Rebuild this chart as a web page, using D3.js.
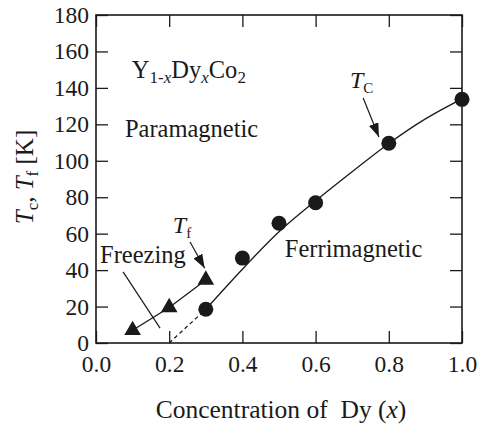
<!DOCTYPE html>
<html>
<head>
<meta charset="utf-8">
<script src="https://cdn.jsdelivr.net/npm/d3@7"></script>
<style>
  body { margin: 0; background: #fff; }
  svg text { fill: #1a1a1a; }
</style>
</head>
<body>
<script>
// Tc (circles) and Tf (triangles)
const tcX = [0.3, 0.4, 0.5, 0.6, 0.8, 1.0];
const tcY = [18.5, 46.6, 65.7, 77, 109.6, 133.7];
const tfX = [0.1, 0.2, 0.3];
const tfY = [7, 19.5, 34.6];

// smooth guide through the Tc points, and its dashed extrapolation
const fitX = [0.3, 0.4, 0.5, 0.6, 0.7, 0.8, 0.9, 1.0];
const fitY = [18.5, 40.5, 61, 78, 94, 109.5, 123, 134];
const dashX = [0.2, 0.3];
const dashY = [0, 18.5];

const xTicks = [0, 0.2, 0.4, 0.6, 0.8, 1.0];
const yTicks = [0, 20, 40, 60, 80, 100, 120, 140, 160, 180];

const serif = "'Liberation Serif'";

const margin = { top: 15, right: 17, bottom: 83, left: 96 },
      W = 479, H = 426,
      width = W - margin.left - margin.right,
      height = H - margin.top - margin.bottom;

var x = d3.scaleLinear().domain([0, 1]).range([0, width]);
var y = d3.scaleLinear().domain([0, 180]).range([height, 0]);

var svg = d3.select("body").append("svg")
    .attr("width", W)
    .attr("height", H);

svg.append("defs").append("marker")
    .attr("id", "head")
    .attr("markerUnits", "userSpaceOnUse")
    .attr("viewBox", "0 0 14 10")
    .attr("refX", 14).attr("refY", 5)
    .attr("markerWidth", 14).attr("markerHeight", 10)
    .attr("orient", "auto")
  .append("path")
    .attr("d", "M0,0 L14,5 L0,10 Z")
    .attr("fill", "#1a1a1a");

var g = svg.append("g")
    .attr("transform", "translate(" + margin.left + "," + margin.top + ")");

function styleAxis(sel) {
  sel.selectAll("line").attr("stroke", "#1a1a1a").attr("stroke-width", 1.3);
  sel.select(".domain").remove();
  sel.selectAll("text").style("font-family", serif).style("font-size", "23.5px").attr("fill", "#1a1a1a");
}

g.append("g")
    .attr("transform", "translate(0," + height + ")")
    .call(d3.axisBottom(x).tickValues(xTicks).tickFormat(d3.format(".1f"))
      .tickSizeInner(-12).tickSizeOuter(0).tickPadding(12))
    .call(styleAxis);

g.append("g")
    .call(d3.axisLeft(y).tickValues(yTicks)
      .tickSizeInner(-12).tickSizeOuter(0).tickPadding(7))
    .call(styleAxis);

g.append("g")
    .call(d3.axisTop(x).tickValues(xTicks).tickFormat("")
      .tickSizeInner(-12).tickSizeOuter(0))
    .call(styleAxis);

g.append("g")
    .attr("transform", "translate(" + width + ",0)")
    .call(d3.axisRight(y).tickValues(yTicks).tickFormat("")
      .tickSizeInner(-12).tickSizeOuter(0))
    .call(styleAxis);

g.append("rect")
    .attr("width", width).attr("height", height)
    .attr("fill", "none").attr("stroke", "#1a1a1a").attr("stroke-width", 1.6);

// lines
var line = d3.line().x(d => x(d[0])).y(d => y(d[1]));

g.append("path")
    .datum(fitX.map((v, i) => [v, fitY[i]]))
    .attr("d", line.curve(d3.curveMonotoneX))
    .attr("fill", "none").attr("stroke", "#1a1a1a").attr("stroke-width", 1.3);

g.append("path")
    .datum(dashX.map((v, i) => [v, dashY[i]]))
    .attr("d", d3.line().x(d => x(d[0])).y(d => y(d[1])))
    .attr("fill", "none").attr("stroke", "#1a1a1a").attr("stroke-width", 1.2)
    .attr("stroke-dasharray", "4,3");

g.append("path")
    .datum(tfX.map((v, i) => [v, tfY[i]]))
    .attr("d", d3.line().x(d => x(d[0])).y(d => y(d[1])))
    .attr("fill", "none").attr("stroke", "#1a1a1a").attr("stroke-width", 1.3);

// markers
g.selectAll(".dot")
    .data(tcX.map((v, i) => [v, tcY[i]]))
    .enter().append("circle")
    .attr("cx", d => x(d[0]))
    .attr("cy", d => y(d[1]))
    .attr("r", 7.5)
    .attr("fill", "#1a1a1a");

g.selectAll(".tri")
    .data(tfX.map((v, i) => [v, tfY[i]]))
    .enter().append("path")
    .attr("transform", d => "translate(" + x(d[0]) + "," + y(d[1]) + ")")
    .attr("d", d3.symbol().type(d3.symbolTriangle).size(120))
    .attr("fill", "#1a1a1a");

// arrows and pointer (data coords)
const arrows = [
  { x1: 0.73, y1: 134.5, x2: 0.773, y2: 113, head: true },
  { x1: 0.257, y1: 55.4, x2: 0.297, y2: 41, head: true },
  { x1: 0.074, y1: 39, x2: 0.175, y2: 8.2, head: false }
];
arrows.forEach(a => {
  var l = g.append("line")
      .attr("x1", x(a.x1)).attr("y1", y(a.y1))
      .attr("x2", x(a.x2)).attr("y2", y(a.y2))
      .attr("stroke", "#1a1a1a").attr("stroke-width", 1.2);
  if (a.head) l.attr("marker-end", "url(#head)");
});

// labels
function txt(sel, px, py, size) {
  return sel.append("text").attr("x", x(px)).attr("y", y(py))
      .style("font-family", serif).style("font-size", size + "px");
}
txt(g, 0.079, 113, 24.5).text("Paramagnetic");
txt(g, 0.011, 43.9, 24.5).text("Freezing");
txt(g, 0.516, 47.2, 24.5).text("Ferrimagnetic");

var formula = txt(g, 0.098, 145.4, 24.5);
formula.append("tspan").text("Y");
formula.append("tspan").attr("dy", 5).style("font-size", "17px").text("1-");
formula.append("tspan").style("font-size", "17px").style("font-style", "italic").text("x");
formula.append("tspan").attr("dy", -5).text("Dy");
formula.append("tspan").attr("dy", 5).style("font-size", "17px").style("font-style", "italic").text("x");
formula.append("tspan").attr("dy", -5).text("Co");
formula.append("tspan").attr("dy", 5).style("font-size", "17px").text("2");

var tcl = txt(g, 0.694, 140, 24);
tcl.append("tspan").style("font-style", "italic").text("T");
tcl.append("tspan").attr("dy", 5).style("font-size", "15px").text("C");

var tfl = txt(g, 0.21, 60.4, 24);
tfl.append("tspan").style("font-style", "italic").text("T");
tfl.append("tspan").attr("dy", 5).style("font-size", "15px").text("f");

// axis titles
var xt = svg.append("text")
    .attr("x", margin.left + width / 2 + 2).attr("y", 418)
    .attr("text-anchor", "middle")
    .style("font-family", serif).style("font-size", "25.5px");
xt.append("tspan").text("Concentration of\u00a0 Dy (");
xt.append("tspan").style("font-style", "italic").text("x");
xt.append("tspan").text(")");

var yt = svg.append("text")
    .attr("transform", "translate(33,177) rotate(-90)")
    .attr("text-anchor", "middle")
    .style("font-family", serif).style("font-size", "25px");
yt.append("tspan").style("font-style", "italic").text("T");
yt.append("tspan").attr("dy", 5).style("font-size", "17px").text("c");
yt.append("tspan").attr("dy", -5).text(", ");
yt.append("tspan").style("font-style", "italic").text("T");
yt.append("tspan").attr("dy", 5).style("font-size", "17px").text("f");
yt.append("tspan").attr("dy", -5).text(" [K]");
</script>
</body>
</html>
